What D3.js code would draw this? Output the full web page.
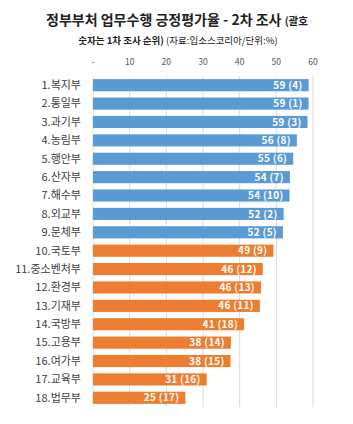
<!DOCTYPE html>
<html>
<head>
<meta charset="utf-8">
<script src="https://cdn.jsdelivr.net/npm/d3@7"></script>
<style>
  body { margin: 0; background: #fff; }
  svg { font-family: "Noto Sans CJK KR", "Noto Sans", sans-serif; }
</style>
</head>
<body>
<svg width="353" height="424"></svg>
<script>
const categories = [
  "1.복지부", "2.통일부", "3.과기부", "4.농림부", "5.행안부", "6.산자부",
  "7.해수부", "8.외교부", "9.문체부", "10.국토부", "11.중소벤처부", "12.환경부",
  "13.기재부", "14.국방부", "15.고용부", "16.여가부", "17.교육부", "18.법무부"
];
const values = [58.8, 58.8, 58.5, 55.6, 54.6, 53.7, 53.6, 52.0, 51.8, 49.2, 46.3, 45.8, 45.5, 41.2, 37.6, 37.5, 31.0, 25.2];
const firstRank = [4, 1, 3, 8, 6, 7, 10, 2, 5, 9, 12, 13, 11, 18, 14, 15, 16, 17];
const ticks = [0, 10, 20, 30, 40, 50, 60];

const svg = d3.select("svg");

const x = d3.scaleLinear().domain([0, 60]).range([93, 313]);
const y = d3.scaleBand().domain(categories).range([76, 407]).paddingInner(0.34).paddingOuter(0.17);

// title
const t1 = svg.append("text").attr("x", 177).attr("y", 25).attr("text-anchor", "middle")
  .attr("fill", "#222").attr("font-weight", "bold");
t1.append("tspan").attr("font-size", 14).text("정부부처 업무수행 긍정평가율 - 2차 조사 ");
t1.append("tspan").attr("font-size", 10.5).text("(괄호");
const t2 = svg.append("text").attr("x", 178).attr("y", 44).attr("text-anchor", "middle")
  .attr("fill", "#222").attr("font-size", 9.5);
t2.append("tspan").attr("font-weight", "bold").text("숫자는 1차 조사 순위) ");
t2.append("tspan").text("(자료:입소스코리아/단위:%)");

// grid
svg.append("g").selectAll("line").data(ticks).join("line")
  .attr("x1", d => x(d)).attr("x2", d => x(d))
  .attr("y1", 76).attr("y2", 407)
  .attr("stroke", "#d9d9d9").attr("stroke-width", 1);

// axis labels
svg.append("g").selectAll("text").data(ticks).join("text")
  .attr("x", d => x(d)).attr("y", 65).attr("text-anchor", "middle")
  .attr("font-size", 8.5).attr("fill", "#595959")
  .text(d => d === 0 ? "-" : d);

// bars
svg.append("g").selectAll("rect").data(values).join("rect")
  .attr("x", x(0))
  .attr("y", (d, i) => y(categories[i]))
  .attr("width", d => x(d) - x(0))
  .attr("height", y.bandwidth())
  .attr("fill", (d, i) => i < 9 ? "#5b9bd5" : "#ed7d31");

// category labels
svg.append("g").selectAll("text").data(categories).join("text")
  .attr("x", 81).attr("y", d => y(d) + y.bandwidth() / 2)
  .attr("dy", "0.35em").attr("text-anchor", "end")
  .attr("font-size", 11).attr("fill", "#404040")
  .text(d => d);

// value labels
svg.append("g").selectAll("text").data(values).join("text")
  .attr("x", d => x(d) - 6)
  .attr("y", (d, i) => y(categories[i]) + y.bandwidth() / 2)
  .attr("dy", "0.36em").attr("text-anchor", "end")
  .attr("font-size", 10).attr("font-weight", "bold").attr("fill", "#fff")
  .attr("letter-spacing", 0.3)
  .text((d, i) => `${Math.round(d)} (${firstRank[i]})`);
</script>
</body>
</html>
